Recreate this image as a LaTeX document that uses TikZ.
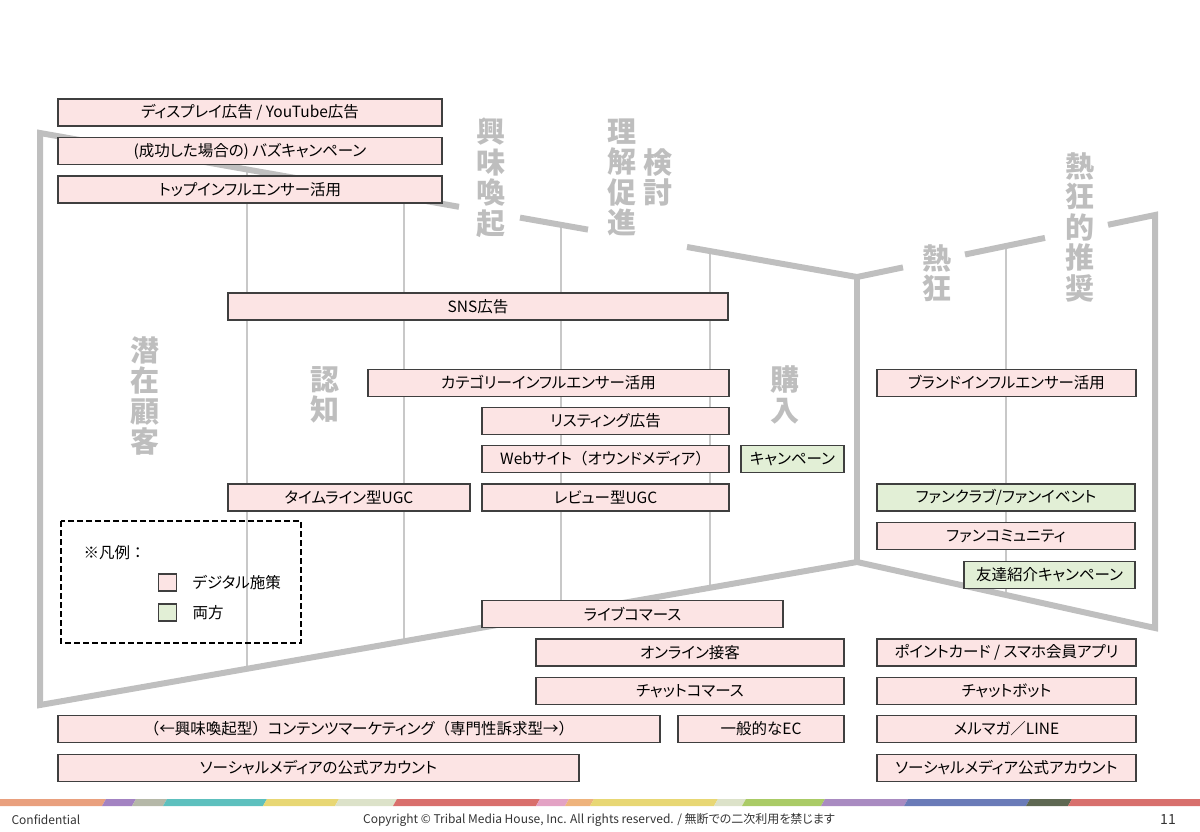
\documentclass[tikz,border=0pt]{standalone}
\usepackage{fontspec}
\setmainfont[RawFeature=+palt]{Noto Sans CJK JP}
\newfontfamily\fullwidth{Noto Sans CJK JP}
\usetikzlibrary{calc}

\definecolor{funnelgray}{HTML}{BFBFBF}
\definecolor{gridgray}{HTML}{C8C8C8}
\definecolor{stagegray}{HTML}{BEBEBE}
\definecolor{pinkfill}{HTML}{FCE4E4}
\definecolor{greenfill}{HTML}{E2EFD6}
\definecolor{boxline}{HTML}{3F3F3F}
\definecolor{footgray}{HTML}{333333}

\newcommand{\fw}[1]{{\fullwidth #1}}

\tikzset{
  digibox/.style={draw=boxline, line width=1.6pt, fill=pinkfill, minimum height=27pt, inner sep=0pt, font=\fontsize{15.5}{18}\selectfont},
  bothbox/.style={digibox, fill=greenfill},
  stage/.style={text=stagegray, font=\fontsize{29}{30.5}\selectfont\bfseries, align=center, inner sep=0pt},
  funnel/.style={draw=funnelgray, line width=6pt},
  guide/.style={draw=gridgray, line width=1.5pt}
}

\begin{document}
\begin{tikzpicture}[x=1pt, y=-1pt]
      \useasboundingbox (0,0) rectangle (1200,831);

      \foreach \gx/\gt/\gb in {247/169/669, 404/197/641, 561/225/614, 710/251/588, 1006/246/595}
        \draw[guide] (\gx,\gt) -- (\gx,\gb);

      \draw[funnel] (459,206.8) -- (40,133) -- (40,705) -- (857,562) -- (1155,628) -- (1155,215) -- (1108,224.8);
      \draw[funnel] (520,217.6) -- (588,229.6);
      \draw[funnel] (687,247) -- (857,277) -- (903,267.4);
      \draw[funnel] (965,254.5) -- (1045,237.9);
      \draw[funnel] (857,277) -- (857,562);

      \node[stage] (senzai) at (145,396) {潜\\在\\顧\\客};
      \node[stage] (ninchi) at (325,395) {認\\知};
      \node[stage] (kyomi) at (491,177.5) {興\\味\\喚\\起};
      \node[stage] (rikai) at (622,177.5) {理\\解\\促\\進};
      \node[stage] (kento) at (658,177.5) {検\\討};
      \node[stage] (konyu) at (785,395) {購\\入};
      \node[stage] (nekkyo) at (937,273) {熱\\狂};
      \node[stage] (suisho) at (1080,227) {熱\\狂\\的\\推\\奨};

      \node[digibox, minimum width=384pt] (display) at (250,112.5) {ディスプレイ広告 / YouTube広告};
      \node[digibox, minimum width=384pt] (buzz) at (250,151) {(成功した場合の) バズキャンペーン};
      \node[digibox, minimum width=384pt] (topinf) at (250,189.5) {トップインフルエンサー活用};
      \node[digibox, minimum width=500pt] (snsad) at (478,306.5) {SNS広告};
      \node[digibox, minimum width=361pt] (catinf) at (548.5,383) {カテゴリーインフルエンサー活用};
      \node[digibox, minimum width=247pt] (listing) at (605.5,421) {リスティング広告};
      \node[digibox, minimum width=247pt] (website) at (605.5,459) {Webサイト\fw{（}オウンドメディア\fw{）}};
      \node[bothbox, minimum width=103pt] (campaign) at (792.5,459) {キャンペーン};
      \node[digibox, minimum width=242pt] (timeline) at (349,497.5) {タイムライン型UGC};
      \node[digibox, minimum width=247pt] (review) at (605.5,497.5) {レビュー型UGC};
      \node[digibox, minimum width=259pt] (brandinf) at (1006.5,383) {ブランドインフルエンサー活用};
      \node[bothbox, minimum width=258pt] (fanclub) at (1006,497.5) {ファンクラブ/ファンイベント};
      \node[digibox, minimum width=258pt] (fancomm) at (1006,536) {ファンコミュニティ};
      \node[bothbox, minimum width=171pt] (friend) at (1049.5,575) {友達紹介キャンペーン};
      \node[digibox, minimum width=301pt] (livecom) at (632.5,614) {ライブコマース};
      \node[digibox, minimum width=308pt] (online) at (690,652.5) {オンライン接客};
      \node[digibox, minimum width=308pt] (chatcom) at (690,691) {チャットコマース};
      \node[digibox, minimum width=602pt] (content) at (359,729) {\fw{（}←興味喚起型\fw{）}コンテンツマーケティング\fw{（}専門性訴求型→\fw{）}};
      \node[digibox, minimum width=166pt] (generalec) at (761,729) {一般的なEC};
      \node[digibox, minimum width=521pt] (social) at (318.5,768) {ソーシャルメディアの公式アカウント};
      \node[digibox, minimum width=259pt] (point) at (1006.5,652.5) {ポイントカード / スマホ会員アプリ};
      \node[digibox, minimum width=259pt] (chatbot) at (1006.5,691) {チャットボット};
      \node[digibox, minimum width=259pt] (mailmag) at (1006.5,729) {メルマガ\fw{／}LINE};
      \node[digibox, minimum width=259pt] (officialacc) at (1006.5,768) {ソーシャルメディア公式アカウント};

      \draw[line width=1.6pt, dash pattern=on 6pt off 3pt] (61,521) rectangle (301,643);
      \node[anchor=west, font=\fontsize{15.5}{18}\selectfont] (legend) at (80,553) {※凡例\fw{：}};
      \node[digibox, minimum width=18pt, minimum height=17pt, line width=1.4pt] (keypink) at (167.5,582.5) {};
      \node[anchor=west, font=\fontsize{15.5}{18}\selectfont] (keypinktext) at (189,583) {デジタル施策};
      \node[bothbox, minimum width=18pt, minimum height=17pt, line width=1.4pt] (keygreen) at (167.5,612.5) {};
      \node[anchor=west, font=\fontsize{15.5}{18}\selectfont] (keygreentext) at (189,613) {両方};

      \foreach \sa/\sb/\sc in {-10/102/E9A07E, 102/132/A383C2, 132/163/B5B8A8, 163/263/5DC0BE, 263/335/E8D774, 335/393/DCE2C9, 393/536/D96F6C, 536/565/E3A2C4, 565/590/EEB37C, 590/714/E8D774, 714/742/DCE2C9, 742/821/AACB66, 821/904/A98BC1, 904/1026/6A7BB8, 1026/1068/5E6852, 1068/1210/D8706D}{
        \definecolor{stripe}{HTML}{\sc}
        \fill[stripe] (\sa,806) -- (\sa+4,799) -- (\sb+4,799) -- (\sb,806) -- cycle;
      }

      \node[anchor=west, font=\fontsize{12}{14}\selectfont, text=footgray] (confidential) at (8,820) {Confidential};
      \node[font=\fontsize{12}{14}\selectfont, text=footgray] (copyright) at (599,820) {Copyright © Tribal Media House, Inc. All rights reserved. / 無断での二次利用を禁じます};
      \node[font=\fontsize{14}{16}\selectfont, text=footgray] (pagenum) at (1168,819) {11};
    \end{tikzpicture}
\end{document}
